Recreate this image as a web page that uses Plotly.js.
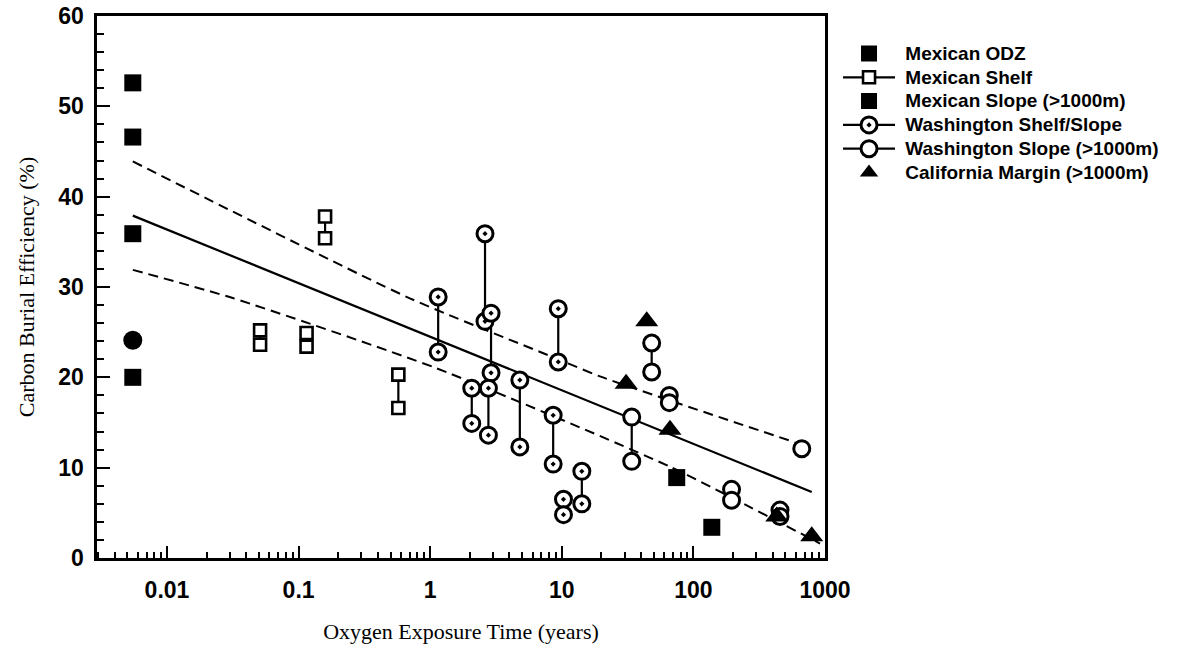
<!DOCTYPE html>
<html>
<head>
<meta charset="utf-8">
<script src="https://cdn.plot.ly/plotly-3.0.1.min.js"></script>
<style>html,body{margin:0;padding:0;background:#fff;}#chart{width:1184px;height:653px;}</style>
</head>
<body>
<div id="chart"></div>
<script>
// ---- data ----
const mexOdzX = [0.0055, 0.0055, 0.0055, 0.0055];
const mexOdzY = [52.6, 46.6, 35.9, 20.0];
const mexOdzCircleX = [0.0055];
const mexOdzCircleY = [24.1];

const mexShelfX = [0.051, 0.051, null, 0.115, 0.115, null, 0.159, 0.159, null, 0.573, 0.573];
const mexShelfY = [25.2, 23.6, null, 24.9, 23.4, null, 37.8, 35.4, null, 20.3, 16.6];

const mexSlopeX = [74.7, 138];
const mexSlopeY = [8.9, 3.4];

const waShelfX = [1.15, 1.15, null, 2.61, 2.61, null, 2.9, 2.9, null, 2.07, 2.07, null, 2.77, 2.77, null,
                  4.8, 4.8, null, 8.6, 8.6, null, 9.4, 9.4, null, 10.3, 10.3, null, 14.2, 14.2];
const waShelfY = [28.9, 22.8, null, 35.9, 26.2, null, 27.1, 20.5, null, 18.8, 14.9, null, 18.8, 13.6, null,
                  19.7, 12.3, null, 15.8, 10.4, null, 27.6, 21.7, null, 6.5, 4.8, null, 9.6, 6.0];

const waSlopeX = [34.0, 34.0, null, 48.2, 48.2, null, 65.6, 65.6, null, 195, 195, null, 455, 455, null, 666];
const waSlopeY = [15.6, 10.7, null, 23.8, 20.6, null, 18.0, 17.2, null, 7.6, 6.4, null, 5.3, 4.6, null, 12.1];

const caX = [30.8, 44.2, 66.4, 430, 793];
const caY = [19.3, 26.2, 14.2, 4.6, 2.4];

const fitX = [0.0055, 793];
const fitY = [37.9, 7.3];
const upperX = [0.0055, 0.70, 9.4, 19.5, 592];
const upperY = [43.9, 28.75, 22.0, 20.1, 12.8];
const lowerX = [0.0055, 0.032, 1.12, 66.4, 917];
const lowerY = [31.9, 28.75, 21.0, 10.1, 1.6];

const seriesNames = ['Mexican ODZ', 'Mexican Shelf', 'Mexican Slope (>1000m)',
                     'Washington Shelf/Slope', 'Washington Slope (>1000m)', 'California Margin (>1000m)'];

const xTickVals = [0.01, 0.1, 1, 10, 100, 1000];
const xTickText = ['0.01', '0.1', '1', '10', '100', '1000'];

// minor tick positions (2..9 in each decade)
const xMinor = [];
for (let e = -3; e <= 2; e++) {
  for (let m = 2; m <= 9; m++) xMinor.push(m * Math.pow(10, e));
}

// legend label: bigger bold text while keeping compact row spacing
const lab = s => '<span style="font-size:19px;font-weight:bold">\u00a0' + s + '</span>';

const LW = 2.2;
const traces = [
  {x: fitX, y: fitY, mode: 'lines', line: {color: '#000', width: 2.2}, showlegend: false, hoverinfo: 'skip'},
  {x: upperX, y: upperY, mode: 'lines', line: {color: '#000', width: 2, dash: '10px,6px', shape: 'spline', smoothing: 0.6}, showlegend: false, hoverinfo: 'skip'},
  {x: lowerX, y: lowerY, mode: 'lines', line: {color: '#000', width: 2, dash: '10px,6px', shape: 'spline', smoothing: 0.6}, showlegend: false, hoverinfo: 'skip'},
  {x: mexOdzX, y: mexOdzY, name: lab(seriesNames[0]), mode: 'markers',
   marker: {symbol: 'square', size: 17, color: '#000'}},
  {x: mexShelfX, y: mexShelfY, name: lab(seriesNames[1]), mode: 'lines+markers', connectgaps: false,
   line: {color: '#000', width: LW},
   marker: {symbol: 'square', size: 12, color: '#fff', line: {color: '#000', width: 2.6}}},
  {x: mexSlopeX, y: mexSlopeY, name: lab(seriesNames[2]), mode: 'markers',
   marker: {symbol: 'square', size: 17, color: '#000'}},
  {x: waShelfX, y: waShelfY, name: lab(seriesNames[3]), mode: 'lines+markers', connectgaps: false,
   line: {color: '#000', width: LW},
   marker: {symbol: 'circle-dot', size: 16, color: '#fff', line: {color: '#000', width: 3}}},
  {x: waSlopeX, y: waSlopeY, name: lab(seriesNames[4]), mode: 'lines+markers', connectgaps: false,
   line: {color: '#000', width: LW},
   marker: {symbol: 'circle', size: 16, color: '#fff', line: {color: '#000', width: 3}}},
  {x: caX, y: caY, name: lab(seriesNames[5]), mode: 'markers',
   marker: {symbol: 'triangle-up', size: 20, color: '#000'}},
  {x: mexOdzCircleX, y: mexOdzCircleY, mode: 'markers', showlegend: false,
   marker: {symbol: 'circle', size: 19, color: '#000'}}
];

const tickFont = {family: 'Liberation Sans, Arial, sans-serif', size: 23, color: '#000', weight: 'bold'};
const layout = {
  width: 1184, height: 653,
  paper_bgcolor: '#fff', plot_bgcolor: '#fff',
  margin: {l: 97, r: 359, t: 16, b: 95},
  showlegend: true,
  xaxis: {
    type: 'log', range: [Math.log10(0.00294), 3.0],
    tickmode: 'array', tickvals: xTickVals, ticktext: xTickText,
    ticks: 'inside', ticklen: 12, tickwidth: 2, tickcolor: '#000',
    minor: {tickmode: 'array', tickvals: xMinor, ticks: 'inside', ticklen: 6, tickwidth: 2, tickcolor: '#000', showgrid: false},
    showline: true, linewidth: 2.6, linecolor: '#000', mirror: true,
    showgrid: false, zeroline: false,
    tickfont: tickFont, ticklabelstandoff: 10,
    title: {text: 'Oxygen Exposure Time (years)', font: {family: 'Liberation Serif, Times New Roman, serif', size: 22, color: '#000'}, standoff: 22}
  },
  yaxis: {
    range: [0, 60], tickmode: 'linear', tick0: 0, dtick: 10,
    ticks: 'inside', ticklen: 13, tickwidth: 2, tickcolor: '#000',
    minor: {dtick: 2, ticks: 'inside', ticklen: 7, tickwidth: 2, tickcolor: '#000', showgrid: false},
    showline: true, linewidth: 2.6, linecolor: '#000', mirror: true,
    showgrid: false, zeroline: false,
    tickfont: tickFont, ticklabelstandoff: 6,
    title: {text: 'Carbon Burial Efficiency (%)', font: {family: 'Liberation Serif, Times New Roman, serif', size: 22, color: '#000'}, standoff: 18}
  },
  legend: {
    x: 1.0179, xanchor: 'left', y: 0.962, yanchor: 'top',
    bgcolor: 'rgba(0,0,0,0)', borderwidth: 0,
    itemwidth: 52,
    font: {family: 'Liberation Sans, Arial, sans-serif', size: 16, color: '#000'}
  }
};

Plotly.newPlot('chart', traces, layout, {displayModeBar: false, staticPlot: true});
</script>
</body>
</html>
